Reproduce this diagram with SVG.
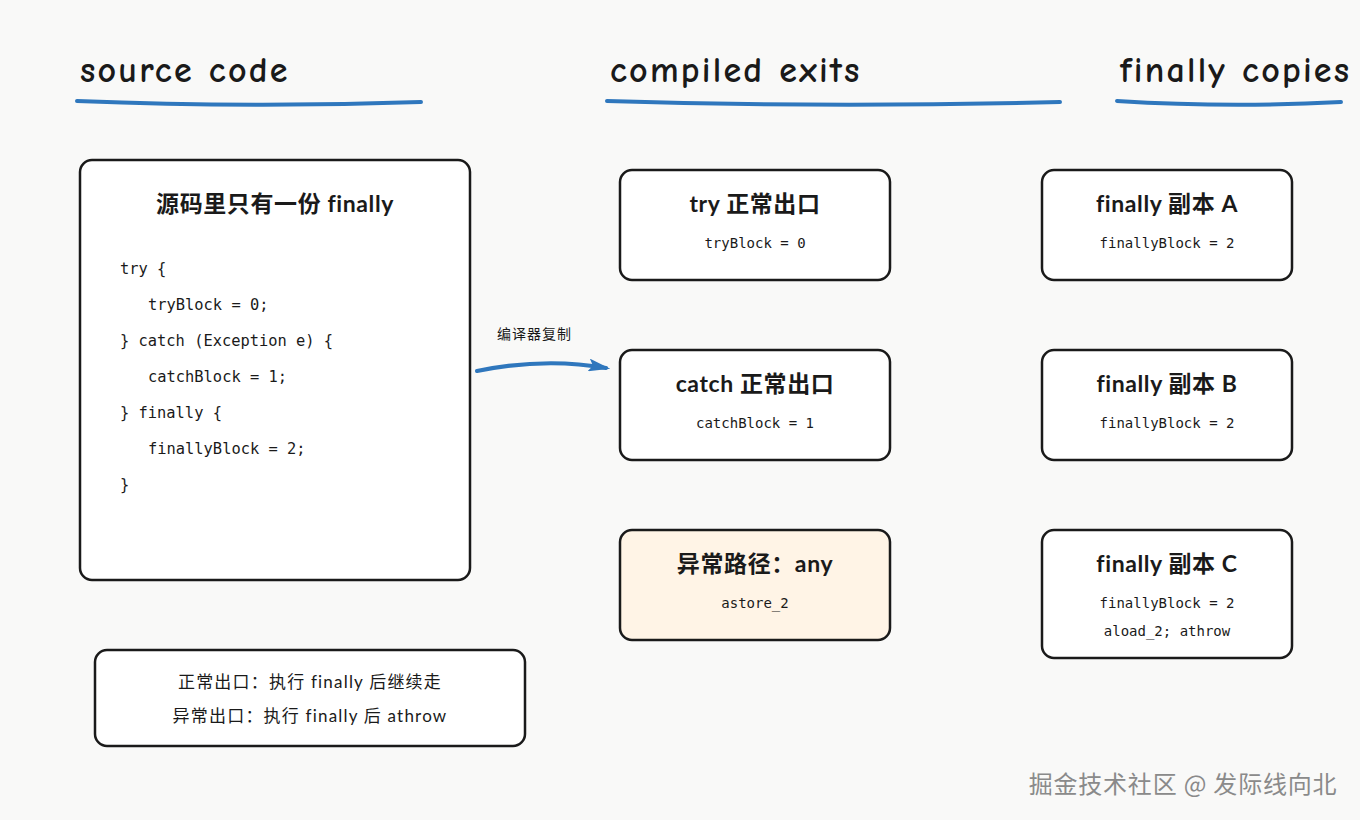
<svg xmlns="http://www.w3.org/2000/svg" width="1360" height="820" viewBox="0 0 1360 820">
<style>
.hdr{font-family:"Comic Neue","Lato","Noto Sans",sans-serif;font-weight:700;font-size:36px;letter-spacing:2.2px;fill:#1a1a1a}
.ul{fill:none;stroke:#2f77bd;stroke-width:4;stroke-linecap:round}
.box{fill:#ffffff;stroke:#1a1a1a;stroke-width:2.5}
.warm{fill:#fff4e6}
.ttl{font-family:"Lato","Noto Sans","Noto Sans CJK SC",sans-serif;font-weight:700;font-size:23px;letter-spacing:0.6px;fill:#1a1a1a;text-anchor:middle}
.mono{font-family:"DejaVu Sans Mono","Liberation Mono",monospace;font-size:14px;fill:#1a1a1a}
.mid{text-anchor:middle}
.code{font-family:"DejaVu Sans Mono","Liberation Mono",monospace;font-size:15.4px;fill:#1a1a1a}
.note{font-family:"Lato","Noto Sans","Noto Sans CJK SC",sans-serif;font-size:17px;letter-spacing:1.2px;fill:#1a1a1a;text-anchor:middle}
.lbl{font-family:"Noto Sans CJK SC",sans-serif;font-size:14px;letter-spacing:1px;fill:#1a1a1a}
.wm{font-family:"Noto Sans CJK SC",sans-serif;font-size:24px;letter-spacing:0.8px;fill:#8a8a8a;text-anchor:middle}
</style>
<defs>
<marker id="ah" viewBox="0 0 10 10" preserveAspectRatio="none" refX="8" refY="5" markerWidth="5.5" markerHeight="3.2" orient="auto" markerUnits="strokeWidth">
<path d="M0,0 L10,5 L0,10 L2,5 Z" fill="#2f77bd"/>
</marker>
</defs>
<rect width="1360" height="820" fill="#f9f9f8"/>

<g id="headers">
<text class="hdr" x="80" y="82">source code</text>
<path class="ul" d="M77,101 Q250,108 421,102"/>
<text class="hdr" x="610" y="82">compiled exits</text>
<path class="ul" d="M607,101 Q830,108 1060,102"/>
<text class="hdr" x="1120" y="82">finally copies</text>
<path class="ul" d="M1117,101 Q1230,108 1341,102"/>
</g>

<g id="source">
<rect class="box" x="80" y="160" width="390" height="420" rx="12"/>
<text class="ttl" x="275" y="212">源码里只有一份 finally</text>
<text class="code" x="120" y="274">try {</text>
<text class="code" x="148" y="310">tryBlock = 0;</text>
<text class="code" x="120" y="346">} catch (Exception e) {</text>
<text class="code" x="148" y="382">catchBlock = 1;</text>
<text class="code" x="120" y="418">} finally {</text>
<text class="code" x="148" y="454">finallyBlock = 2;</text>
<text class="code" x="120" y="490">}</text>
</g>

<g id="connectors">
<path d="M477,371 Q545,357 606,368" fill="none" stroke="#2f77bd" stroke-width="4" stroke-linecap="round" marker-end="url(#ah)"/>
<text class="lbl" x="497" y="339">编译器复制</text>
</g>

<g id="try-exit">
<rect class="box" x="620" y="170" width="270" height="110" rx="12"/>
<text class="ttl" x="755" y="212">try 正常出口</text>
<text class="mono mid" x="755" y="248">tryBlock = 0</text>
</g>
<g id="catch-exit">
<rect class="box" x="620" y="350" width="270" height="110" rx="12"/>
<text class="ttl" x="755" y="392">catch 正常出口</text>
<text class="mono mid" x="755" y="428">catchBlock = 1</text>
</g>
<g id="any-exit">
<rect class="box warm" x="620" y="530" width="270" height="110" rx="12"/>
<text class="ttl" x="755" y="572">异常路径：any</text>
<text class="mono mid" x="755" y="608">astore_2</text>
</g>

<g id="copy-a">
<rect class="box" x="1042" y="170" width="250" height="110" rx="12"/>
<text class="ttl" x="1167" y="212">finally 副本 A</text>
<text class="mono mid" x="1167" y="248">finallyBlock = 2</text>
</g>
<g id="copy-b">
<rect class="box" x="1042" y="350" width="250" height="110" rx="12"/>
<text class="ttl" x="1167" y="392">finally 副本 B</text>
<text class="mono mid" x="1167" y="428">finallyBlock = 2</text>
</g>
<g id="copy-c">
<rect class="box" x="1042" y="530" width="250" height="128" rx="12"/>
<text class="ttl" x="1167" y="572">finally 副本 C</text>
<text class="mono mid" x="1167" y="608">finallyBlock = 2</text>
<text class="mono mid" x="1167" y="636">aload_2; athrow</text>
</g>

<g id="legend">
<rect class="box" x="95" y="650" width="430" height="96" rx="12"/>
<text class="note" x="310" y="688">正常出口：执行 finally 后继续走</text>
<text class="note" x="310" y="722">异常出口：执行 finally 后 athrow</text>
</g>

<text class="wm" x="1183" y="793">掘金技术社区 @ 发际线向北</text>
</svg>
